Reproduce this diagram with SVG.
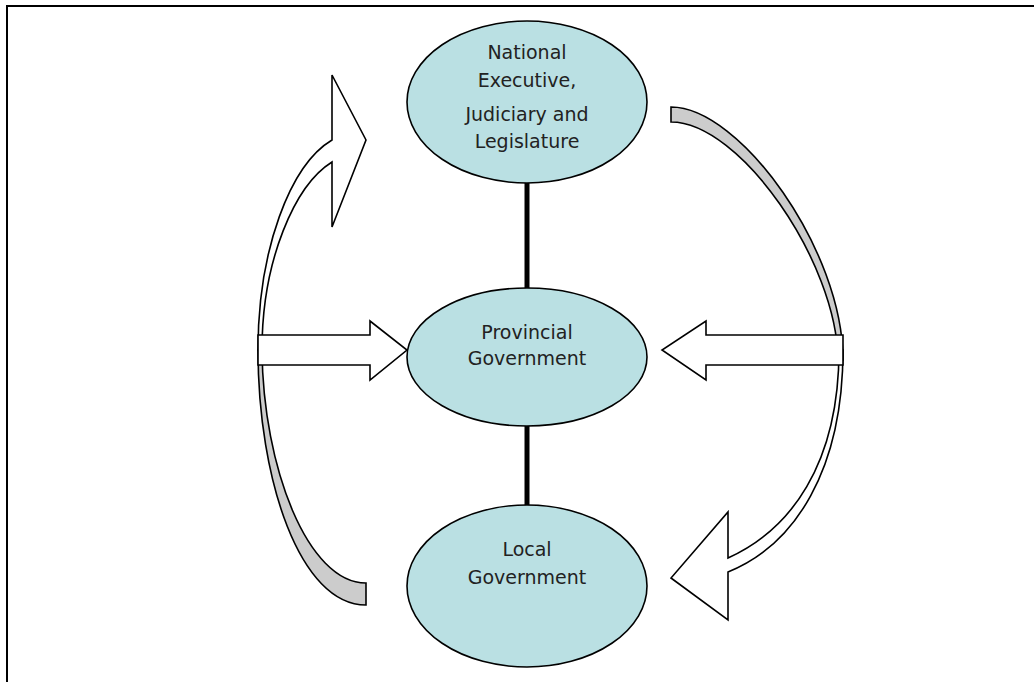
<svg xmlns="http://www.w3.org/2000/svg" width="1034" height="682" viewBox="0 0 1034 682">
  <style>
    .node { fill: #BAE0E3; stroke: #000; stroke-width: 1.6; }
    .label { font-family: "DejaVu Sans", "Liberation Sans", sans-serif; font-size: 19px; fill: #222; text-anchor: middle; }
    .link { stroke: #000; stroke-width: 5; fill: none; }
    .front { fill: #fff; stroke: #000; stroke-width: 1.6; stroke-linejoin: miter; }
    .back { fill: #CCCCCC; stroke: #000; stroke-width: 1.6; }
    .frame { stroke: #000; stroke-width: 2; fill: none; }
  </style>

  <rect width="1034" height="682" fill="#fff"/>
  <!-- page frame: top and left rules -->
  <path class="frame" d="M7,682 L7,6 L1034,6"/>

  <g id="connectors">
    <line class="link" x1="527" y1="183" x2="527" y2="289"/>
    <line class="link" x1="527" y1="425" x2="527" y2="506"/>

    <!-- left curved arrow: shaded back band, then front band with head -->
    <path class="back" d="M366,605 C300,605 258,480 258,350 L262,350 C263,468 308,583 366,583 Z"/>
    <path class="front" d="M258,350 C258,250 290,165 332,140 L332,75 L366,140 L332,227 L332,162 C295,185 262,260 262,350 Z"/>

    <!-- right curved arrow: shaded back band, then front band with head -->
    <path class="back" d="M671,107 C740,107 843,250 843,360 L838,360 C837,262 740,122 671,122 Z"/>
    <path class="front" d="M843,350 C843,470 795,545 728,572 L728,620 L671,578 L728,512 L728,558 C790,530 839,465 839,350 Z"/>

    <!-- block arrows into the provincial node -->
    <path class="front" d="M258,335 L370,335 L370,321 L407,350 L370,380 L370,365 L258,365 Z"/>
    <path class="front" d="M843,335 L706,335 L706,321 L662,350 L706,380 L706,365 L843,365 Z"/>
  </g>

  <g id="national">
    <ellipse class="node" cx="527" cy="102" rx="120" ry="81"/>
    <text class="label" x="527" y="59">National</text>
    <text class="label" x="527" y="87">Executive,</text>
    <text class="label" x="527" y="121">Judiciary and</text>
    <text class="label" x="527" y="148">Legislature</text>
  </g>

  <g id="provincial">
    <ellipse class="node" cx="527" cy="357" rx="120" ry="69"/>
    <text class="label" x="527" y="339">Provincial</text>
    <text class="label" x="527" y="365">Government</text>
  </g>

  <g id="local">
    <ellipse class="node" cx="527" cy="586" rx="120" ry="81"/>
    <text class="label" x="527" y="556">Local</text>
    <text class="label" x="527" y="584">Government</text>
  </g>
</svg>
